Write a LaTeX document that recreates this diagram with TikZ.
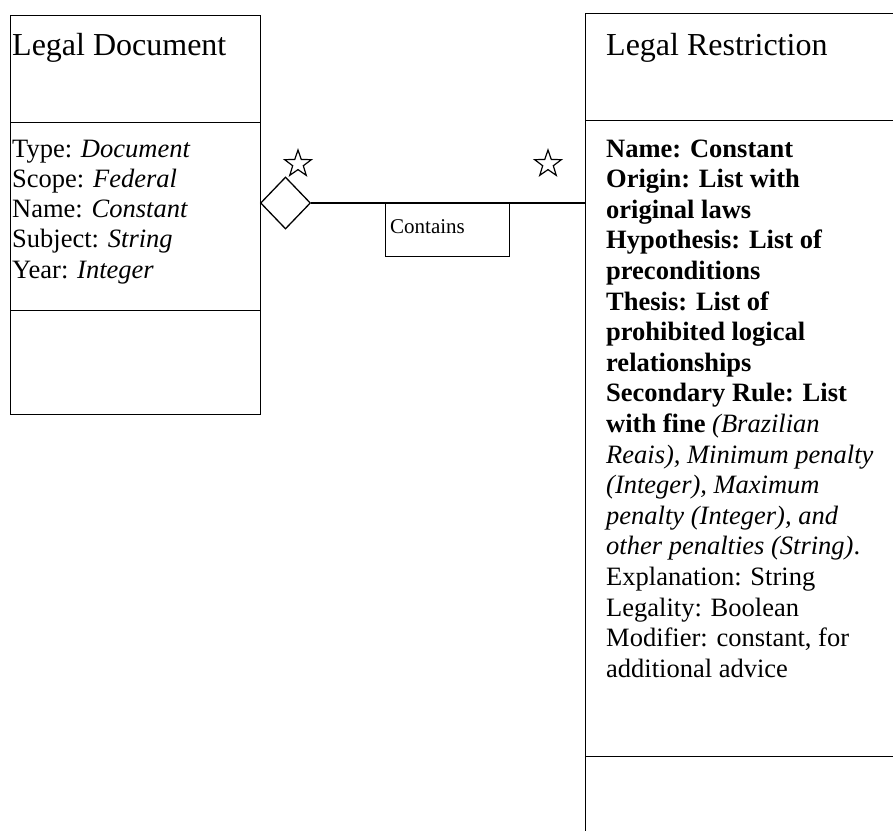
\documentclass[tikz,border=0pt]{standalone}
\usepackage{fontspec}
\setmainfont{Liberation Serif}
\usetikzlibrary{shapes.geometric}
\begin{document}
\begin{tikzpicture}[x=1pt,y=-1pt,
  umlbox/.style={draw, line width=1.4pt, rectangle, inner sep=0pt, anchor=north west},
  titletext/.style={anchor=base west, inner sep=0pt, font=\fontsize{32}{38}\selectfont},
  attrtext/.style={anchor=base west, inner sep=0pt, font=\fontsize{26.5}{30.5}\selectfont},
  smalltext/.style={anchor=base west, inner sep=0pt, font=\fontsize{21}{25}\selectfont},
  multstar/.style={star, star points=5, star point ratio=2.5, draw, line width=1.2pt, minimum size=28pt, inner sep=0pt},
  aggdiamond/.style={diamond, draw, line width=1.3pt, minimum width=50pt, minimum height=52pt, inner sep=0pt},
  assoc/.style={line width=1.3pt}
]
\useasboundingbox (0,0) rectangle (893,830);
\clip (0,0) rectangle (893,830);
% Legal Document class
\node[umlbox, minimum width=250pt, minimum height=107pt] (ldname) at (10,15) {};
\node[umlbox, minimum width=250pt, minimum height=188pt] (ldattr) at (10,122) {};
\node[umlbox, minimum width=250pt, minimum height=104pt] (ldops) at (10,310) {};
\node[titletext] (ldtitle) at (12,55) {Legal Document};
\foreach \t [count=\i from 0] in {
  {Type: \textit{Document}},
  {Scope: \textit{Federal}},
  {Name: \textit{Constant}},
  {Subject: \textit{String}},
  {Year: \textit{Integer}}}
  \node[attrtext] (lda\i) at (12,157+30.3*\i) {\t};
% Legal Restriction class
\node[umlbox, minimum width=330pt, minimum height=107pt] (rrname) at (585,13) {};
\node[umlbox, minimum width=330pt, minimum height=636pt] (rrattr) at (585,120) {};
\node[umlbox, minimum width=330pt, minimum height=110pt] (rrops) at (585,756) {};
\node[titletext] (rrtitle) at (606,55) {Legal Restriction};
\foreach \t [count=\i from 0] in {
  {\textbf{Name: Constant}},
  {\textbf{Origin: List with}},
  {\textbf{original laws}},
  {\textbf{Hypothesis: List of}},
  {\textbf{preconditions}},
  {\textbf{Thesis: List of}},
  {\textbf{prohibited logical}},
  {\textbf{relationships}},
  {\textbf{Secondary Rule: List}},
  {\textbf{with fine} \textit{(Brazilian}},
  {\textit{Reais), Minimum penalty}},
  {\textit{(Integer), Maximum}},
  {\textit{penalty (Integer), and}},
  {\textit{other penalties (String)}.},
  {Explanation: String},
  {Legality: Boolean},
  {Modifier: constant, for},
  {additional advice}}
  \node[attrtext] (rra\i) at (606,157+30.6*\i) {\t};
% Association
\node[aggdiamond] (agg) at (285.5,203) {};
\draw[assoc] (agg.east) -- (agg.east -| rrattr.west);
\node[umlbox, minimum width=124pt, minimum height=53pt] (contains) at (385,203) {};
\node[smalltext] (containstext) at (390,233) {Contains};
\node[multstar] (starl) at (298,164) {};
\node[multstar] (starr) at (548,164) {};
\end{tikzpicture}
\end{document}
